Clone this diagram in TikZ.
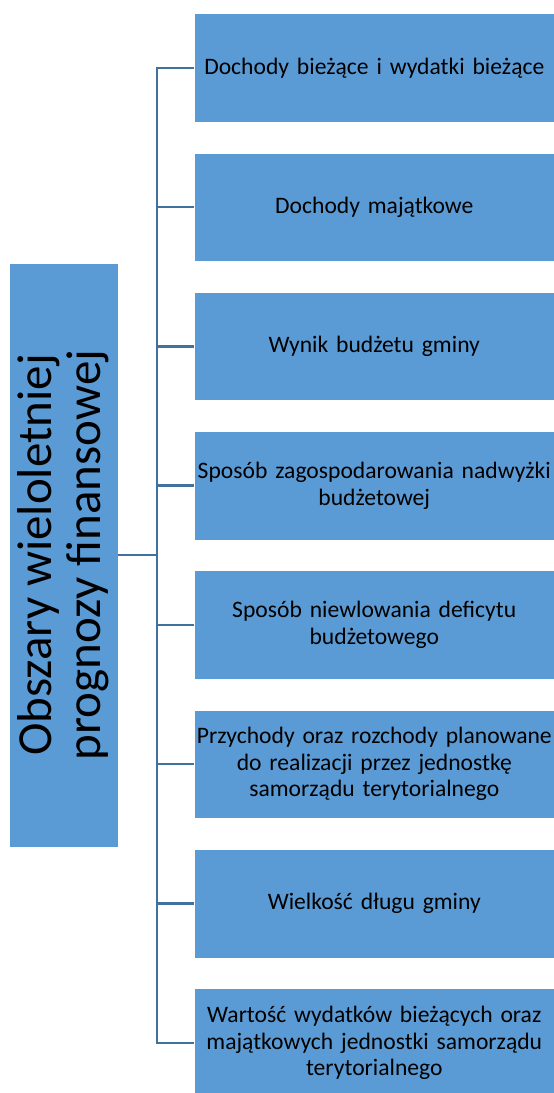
\documentclass[tikz,border=0pt]{standalone}
\usepackage{fontspec}
\setmainfont{Carlito}
\usepackage{tikz}
\usetikzlibrary{positioning}
\definecolor{boxblue}{RGB}{91,155,213}
\definecolor{linkblue}{RGB}{65,113,156}
\tikzset{
  area/.style={rectangle, draw=white, fill=boxblue, line width=0.6pt,
    minimum width=360pt, minimum height=108.5pt, text width=358pt,
    align=center, inner sep=1pt, anchor=west,
    font=\fontsize{23.6}{26.5}\selectfont},
  rootbox/.style={rectangle, draw=white, fill=boxblue, line width=0.6pt,
    minimum width=584pt, minimum height=109pt, align=center, inner sep=1pt,
    font=\fontsize{49}{49}\selectfont},
  link/.style={line width=2.4pt, color=linkblue}
}
\begin{document}
\begin{tikzpicture}[x=1pt, y=-1pt]
  \useasboundingbox (0,0) rectangle (554,1093);

  % Root box
  \node[rootbox, rotate=90] (root) at (63.5,555) {Obszary wieloletniej\\prognozy finansowej};

  % Areas of the forecast
  \node[area] (p1) at (194,67.75) {Dochody bieżące i wydatki bieżące};
  \node[area] (p2) at (194,207.05) {Dochody majątkowe};
  \node[area] (p3) at (194,346.35) {Wynik budżetu gminy};
  \node[area] (p4) at (194,485.65) {Sposób zagospodarowania nadwyżki\\budżetowej};
  \node[area] (p5) at (194,624.95) {Sposób niewlowania deficytu\\budżetowego};
  \node[area] (p6) at (194,764.25) {Przychody oraz rozchody planowane\\do realizacji przez jednostkę\\samorządu terytorialnego};
  \node[area] (p7) at (194,903.55) {Wielkość długu gminy};
  \node[area] (p8) at (194,1042.85) {Wartość wydatków bieżących oraz\\majątkowych jednostki samorządu\\terytorialnego};

  % Connections
  \foreach \p in {p1,p2,p3,p4,p5,p6,p7,p8}
    \draw[link] (root.south) -- ++(38.5,0) |- (\p.west);
\end{tikzpicture}
\end{document}
